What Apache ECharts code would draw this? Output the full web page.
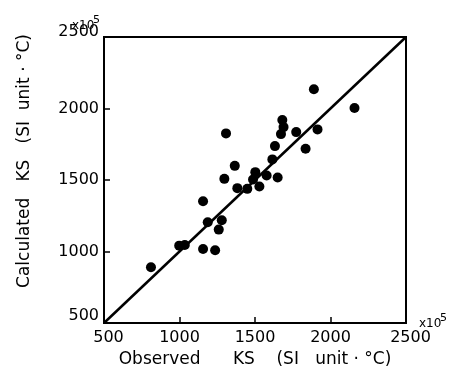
<!DOCTYPE html>
<html>
<head>
<meta charset="utf-8">
<script src="https://cdn.jsdelivr.net/npm/echarts@6/dist/echarts.min.js"></script>
<style>
  html, body { margin: 0; padding: 0; background: #fff; }
  #main { width: 454px; height: 381px; }
</style>
</head>
<body>
<div id="main"></div>
<script>
// observed KS (x) and calculated KS (y), x10^5
var observed = [811, 998, 1035, 1156, 1236, 1156, 1187, 1280, 1260, 1308,
    1297, 1366, 1383, 1449, 1487, 1502, 1529, 1577, 1650, 1615,
    1632, 1672, 1689, 1681, 1773, 1835, 1914, 1890, 2159];
var calculated = [890, 1041, 1046, 1018, 1009, 1352, 1205, 1219, 1153, 1826,
    1508, 1599, 1443, 1438, 1503, 1555, 1455, 1531, 1517, 1644,
    1737, 1821, 1870, 1919, 1835, 1718, 1854, 2134, 2003];
// 1:1 line
var lineX = [500, 2500];
var lineY = [500, 2500];
var ticks = [500, 1000, 1500, 2000, 2500];

var font = 'DejaVu Sans';
var mychart = echarts.init(document.getElementById('main'), null, { renderer: 'canvas' });

var points = observed.map(function (x, i) { return [x, calculated[i]]; });
var diag = lineX.map(function (x, i) { return [x, lineY[i]]; });

// the little "x10^5" marks
function expMark(left, top) {
    return [
        { type: 'text', left: left, top: top + 5, style: { text: 'x10', font: '12px ' + font, fill: '#000' } },
        { type: 'text', left: left + 21, top: top, style: { text: '5', font: '11px ' + font, fill: '#000' } }
    ];
}

var option = {
    animation: false,
    backgroundColor: '#fff',
    grid: {
        left: 104,
        right: 48,
        top: 37,
        bottom: 58,
        show: true,
        borderColor: '#000',
        borderWidth: 2
    },
    xAxis: {
        type: 'value',
        min: ticks[0],
        max: ticks[ticks.length - 1],
        interval: 500,
        name: 'Observed      KS    (SI   unit · °C)',
        nameLocation: 'middle',
        nameGap: 24,
        nameTextStyle: { color: '#000', fontSize: 17, fontFamily: font },
        splitLine: { show: false },
        axisLine: { lineStyle: { color: '#000', width: 2 } },
        axisTick: { inside: true, length: 6, lineStyle: { color: '#000', width: 1.5 } },
        axisLabel: {
            color: '#000',
            fontSize: 16,
            fontFamily: font,
            margin: 7,
            formatter: function (v) {
                if (v === 500 || v === 2500) return '{e|' + v + '}';
                return v;
            },
            rich: { e: { fontSize: 16, fontFamily: font, color: '#000', padding: [0, 0, 0, 9] } }
        }
    },
    yAxis: {
        type: 'value',
        min: ticks[0],
        max: ticks[ticks.length - 1],
        interval: 500,
        name: 'Calculated   KS   (SI  unit · °C)',
        nameLocation: 'middle',
        nameGap: 71,
        nameTextStyle: { color: '#000', fontSize: 17, fontFamily: font, padding: [0, 0, 0, 38] },
        splitLine: { show: false },
        axisLine: { lineStyle: { color: '#000', width: 2 } },
        axisTick: { inside: true, length: 6, lineStyle: { color: '#000', width: 1.5 } },
        axisLabel: {
            color: '#000',
            fontSize: 16,
            fontFamily: font,
            margin: 5,
            formatter: function (v) {
                if (v === 500) return '{lo|' + v + '}';
                if (v === 2500) return '{hi|' + v + '}';
                return v;
            },
            rich: {
                lo: { fontSize: 16, fontFamily: font, color: '#000', padding: [0, 0, 14, 0] },
                hi: { fontSize: 16, fontFamily: font, color: '#000', padding: [0, 0, 10, 0] }
            }
        }
    },
    graphic: expMark(72, 15).concat(expMark(419, 313)),
    series: [
        {
            name: '1:1',
            type: 'line',
            data: diag,
            symbol: 'none',
            lineStyle: { color: '#000', width: 2.5 },
            z: 2
        },
        {
            name: 'KS',
            type: 'scatter',
            data: points,
            symbol: 'circle',
            symbolSize: 10,
            itemStyle: { color: '#000', opacity: 1 },
            z: 3
        }
    ]
};
mychart.setOption(option);
window.addEventListener('resize', function () {
    mychart.resize();
});
</script>
</body>
</html>
